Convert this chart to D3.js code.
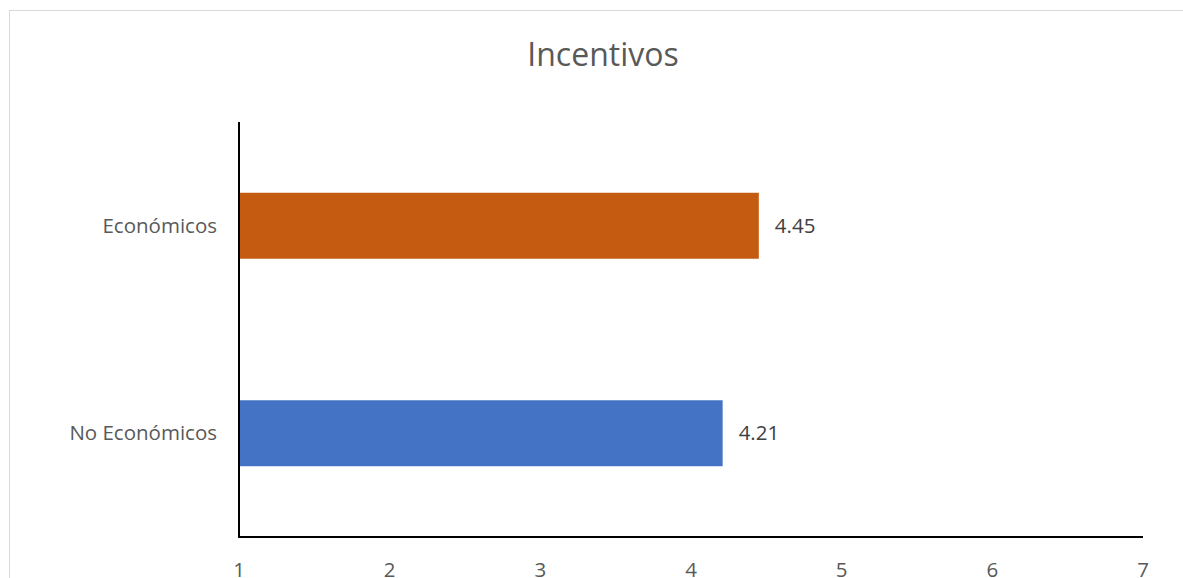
<!DOCTYPE html>
<html>
<head>
<meta charset="utf-8">
<script src="https://cdn.jsdelivr.net/npm/d3@7"></script>
<style>
  body { margin: 0; background: #fff; }
  svg { display: block; font-family: "Open Sans", "Liberation Sans", sans-serif; }
</style>
</head>
<body>
<svg id="chart" width="1183" height="578"></svg>
<script>
// chart data
var categories = ["Económicos", "No Económicos"];
var values = [4.45, 4.21];
var barColors = ["#C55A11", "#4472C4"];
var xTicks = [1, 2, 3, 4, 5, 6, 7];
var title = "Incentivos";

var svg = d3.select("#chart");

// outer chart border (only top and left show in the frame)
svg.append("rect")
    .attr("x", 9.5).attr("y", 10.5)
    .attr("width", 1200).attr("height", 600)
    .attr("fill", "none")
    .attr("stroke", "#d9d9d9")
    .attr("stroke-width", 1);

var plot = { left: 239, right: 1143, top: 122, bottom: 537 };

var x = d3.scaleLinear().domain([1, 7]).range([plot.left, plot.right]);
var y = d3.scaleBand().domain(categories)
    .range([plot.top, plot.bottom])
    .paddingInner(0.682).paddingOuter(0.341);

// title
svg.append("text")
    .attr("x", 603).attr("y", 66)
    .attr("text-anchor", "middle")
    .attr("fill", "#595959")
    .style("font-size", "32px")
    .text(title);

// bars
svg.selectAll(".bar").data(categories).enter().append("rect")
    .attr("class", "bar")
    .attr("x", x(1))
    .attr("y", function(d) { return y(d); })
    .attr("width", function(d, i) { return x(values[i]) - x(1); })
    .attr("height", y.bandwidth())
    .attr("fill", function(d, i) { return barColors[i]; });

// value labels
svg.selectAll(".val").data(categories).enter().append("text")
    .attr("class", "val")
    .attr("x", function(d, i) { return x(values[i]) + 16; })
    .attr("y", function(d) { return y(d) + y.bandwidth() / 2; })
    .attr("dy", "0.35em")
    .attr("fill", "#404040")
    .style("font-size", "20.5px")
    .text(function(d, i) { return values[i].toFixed(2); });

// category labels
svg.selectAll(".cat").data(categories).enter().append("text")
    .attr("class", "cat")
    .attr("x", plot.left - 22)
    .attr("y", function(d) { return y(d) + y.bandwidth() / 2; })
    .attr("dy", "0.35em")
    .attr("text-anchor", "end")
    .attr("fill", "#595959")
    .style("font-size", "20.5px")
    .text(function(d) { return d; });

// axes lines
svg.append("line")
    .attr("x1", plot.left).attr("x2", plot.left)
    .attr("y1", plot.top).attr("y2", plot.bottom)
    .attr("stroke", "#000").attr("stroke-width", 2);
svg.append("line")
    .attr("x1", plot.left - 1).attr("x2", plot.right)
    .attr("y1", plot.bottom).attr("y2", plot.bottom)
    .attr("stroke", "#000").attr("stroke-width", 2);

// x tick labels (cut by the bottom edge, as in the source image)
svg.selectAll(".tick-label").data(xTicks).enter().append("text")
    .attr("class", "tick-label")
    .attr("x", function(d) { return x(d); })
    .attr("y", 577)
    .attr("text-anchor", "middle")
    .attr("fill", "#595959")
    .style("font-size", "20.5px")
    .text(function(d) { return d; });
</script>
</body>
</html>
